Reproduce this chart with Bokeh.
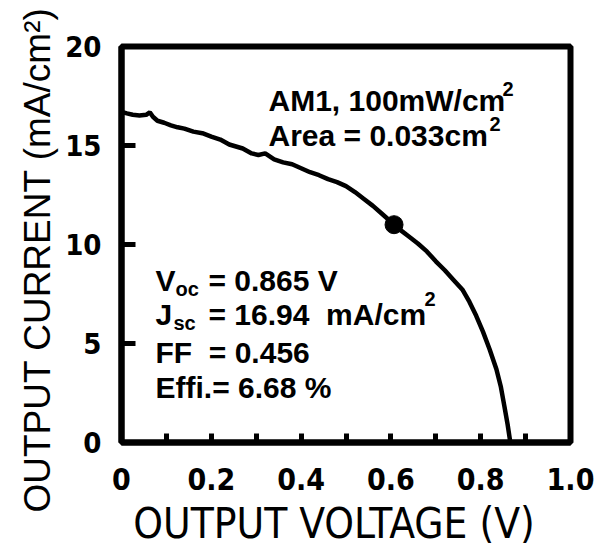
from bokeh.plotting import figure
from bokeh.models import Label, FixedTicker, Range1d, Title
from bokeh.embed import file_html
from bokeh.resources import INLINE

# ---- data ----
voltage = [0.000, 0.012, 0.025, 0.040, 0.055, 0.063, 0.070, 0.080, 0.095, 0.110,
           0.125, 0.140, 0.160, 0.180, 0.200, 0.220, 0.240, 0.255, 0.270, 0.290,
           0.305, 0.320, 0.340, 0.360, 0.380, 0.400, 0.420, 0.440, 0.460, 0.480,
           0.500, 0.520, 0.540, 0.560, 0.580, 0.600, 0.620, 0.640, 0.660, 0.680,
           0.700, 0.720, 0.740, 0.760, 0.775, 0.790, 0.805, 0.820, 0.835, 0.845,
           0.853, 0.860, 0.866]
current = [16.70, 16.62, 16.55, 16.52, 16.55, 16.68, 16.45, 16.25, 16.15, 16.02,
           15.92, 15.85, 15.70, 15.62, 15.45, 15.30, 15.05, 14.95, 14.85, 14.60,
           14.52, 14.60, 14.30, 14.15, 14.05, 13.85, 13.65, 13.50, 13.30, 13.15,
           12.95, 12.65, 12.30, 11.95, 11.55, 11.15, 10.75, 10.40, 10.05, 9.65,
           9.15, 8.70, 8.20, 7.70, 7.10, 6.40, 5.60, 4.70, 3.70, 2.80,
           1.80, 0.90, 0.00]
mpp_voltage = [0.607]
mpp_current = [11.0]

x_major = [0.0, 0.2, 0.4, 0.6, 0.8, 1.0]
x_minor = [0.1, 0.3, 0.5, 0.7, 0.9]
x_labels = ["0", "0.2", "0.4", "0.6", "0.8", "1.0"]
y_major = [0, 5, 10, 15, 20]
y_labels = ["0", "5", "10", "15", "20"]

NARROW = "'Liberation Sans Narrow', 'DejaVu Sans Condensed', sans-serif"
SANS = "Liberation Sans"
NB = "\u00a0"

W, H = 598, 551
p = figure(width=W, height=H, output_backend="svg", toolbar_location=None,
           x_range=Range1d(0, 1.0), y_range=Range1d(0, 20),
           min_border_left=121, min_border_right=28,
           min_border_top=46, min_border_bottom=109)
p.grid.visible = False
p.background_fill_color = "white"
p.border_fill_color = "white"
p.outline_line_color = "black"
p.outline_line_width = 6

# axes
xa = p.xaxis[0]
xa.ticker = FixedTicker(ticks=x_major, minor_ticks=x_minor)
xa.major_label_overrides = {t: s for t, s in zip(x_major, x_labels)}
ya = p.yaxis[0]
ya.ticker = FixedTicker(ticks=y_major)
ya.major_label_overrides = {t: s for t, s in zip(y_major, y_labels)}

for ax in (xa, ya):
    ax.axis_line_width = 6
    ax.axis_line_color = "black"
    ax.major_tick_out = 0
    ax.minor_tick_out = 0
    ax.major_tick_line_width = 5
    ax.minor_tick_line_width = 5
    ax.major_label_text_font = NARROW
    ax.major_label_text_font_style = "bold"
    ax.major_label_text_color = "black"
    ax.axis_label_text_color = "black"
    ax.axis_label_text_font_style = "normal"

xa.major_tick_in = 9
xa.minor_tick_in = 9
xa.major_label_text_font_size = "30px"
xa.major_label_standoff = 25
xa.axis_label = "OUTPUT  VOLTAGE  (V)"
xa.axis_label_text_font = NARROW
xa.axis_label_text_font_size = "42px"
xa.axis_label_standoff = 6

ya.major_tick_in = 14
ya.minor_tick_in = 0
ya.minor_tick_line_color = None
ya.major_label_text_font_size = "29px"
ya.major_label_standoff = 20
ya.major_label_orientation = "horizontal"

# y axis title as a side title, anchored below the frame's bottom edge so it
# runs from about y=515 up to the top of the picture, as in the reference
ytitle = Title(text="OUTPUT CURRENT (mA/cm\u00b2)", align="left", offset=-70,
               text_font=SANS, text_font_size="37px", text_font_style="normal",
               text_color="black", standoff=9)
p.add_layout(ytitle, "left")

# curve and max power point
p.line(voltage, current, line_color="black", line_width=4.5)
p.scatter(mpp_voltage, mpp_current, size=18, color="black")

# annotation helper: picture pixel position -> data coordinates
FL, FR, FT, FB = 121, 570, 46, 442


def to_data(px, py):
    return (px - FL) / (FR - FL), 20.0 * (FB - py) / (FB - FT)


def add_text(px, py, txt, size=30):
    x, y = to_data(px, py)
    p.add_layout(Label(x=x, y=y, text=txt, text_font=SANS, text_font_style="bold",
                       text_font_size=f"{size}px", text_color="black",
                       text_baseline="alphabetic", text_align="left"))


add_text(268, 100, "AM1, 100mW/cm")
add_text(502, 88, "2", 20)
add_text(268, 135, "Area = 0.033cm")
add_text(489, 123, "2", 20)

add_text(155, 280, "V")
add_text(175, 288, "oc", 20)
add_text(208, 280, "= 0.865 V")
add_text(155, 314, "J")
add_text(173, 322, "sc", 20)
add_text(208, 314, "= 16.94" + NB + NB + "mA/cm")
add_text(424, 298, "2", 20)
add_text(155, 352, "FF" + NB + NB + "= 0.456")
add_text(155, 387, "Effi.= 6.68 %")

open("out.html", "w").write(file_html(p, INLINE))
